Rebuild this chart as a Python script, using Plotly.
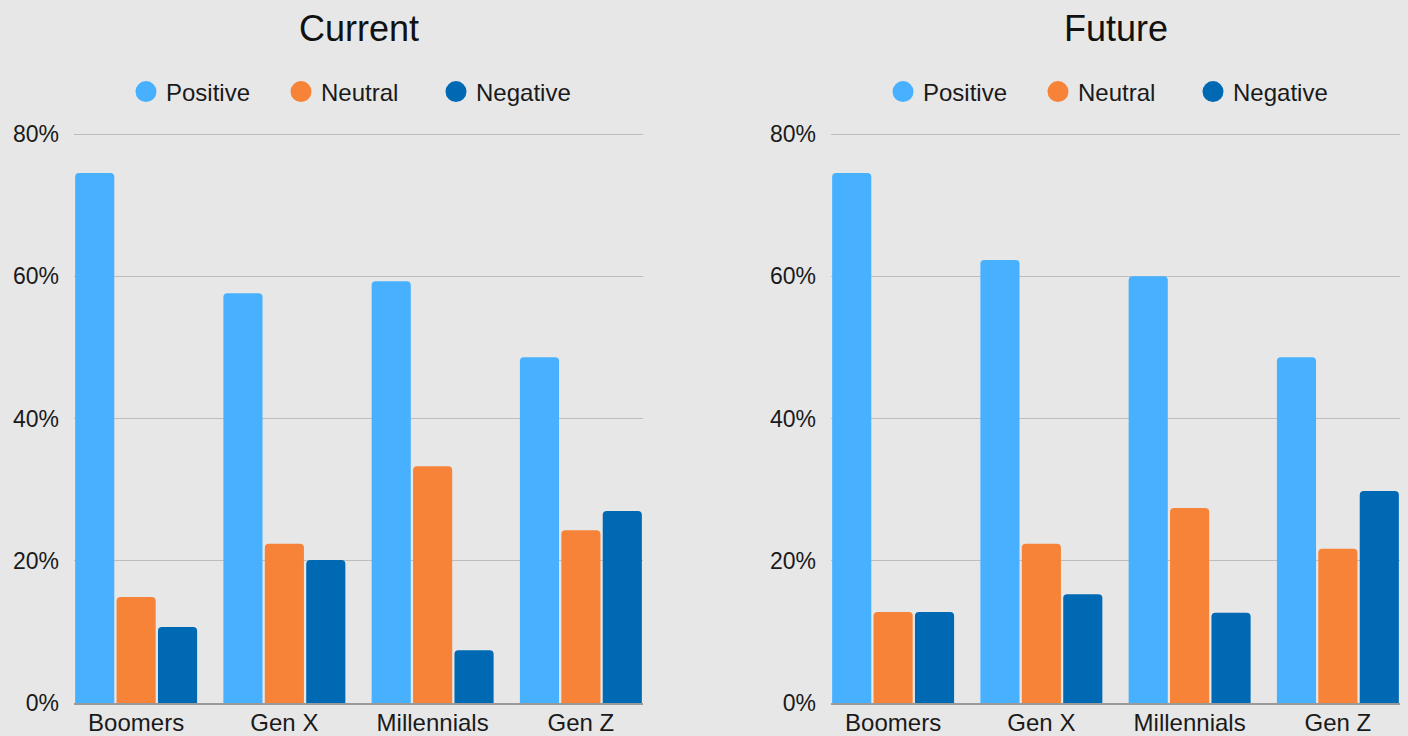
import plotly.graph_objects as go

categories = ["Boomers", "Gen X", "Millennials", "Gen Z"]
series_names = ["Positive", "Neutral", "Negative"]

current_positive = [74.5, 57.6, 59.3, 48.6]
current_neutral = [14.9, 22.4, 33.3, 24.3]
current_negative = [10.7, 20.1, 7.4, 27.0]

future_positive = [74.5, 62.3, 60.0, 48.6]
future_neutral = [12.8, 22.4, 27.4, 21.7]
future_negative = [12.8, 15.3, 12.7, 29.8]

panel_titles = ["Current", "Future"]
y_tick_values = [0, 20, 40, 60, 80]
y_tick_labels = ["0%", "20%", "40%", "60%", "80%"]

colors = ["#48B1FF", "#F68337", "#0069B4"]
BG = "#E7E7E7"
FONT = "Liberation Sans, Arial, sans-serif"

W, H = 1408, 736
panels = [
    (current_positive, current_neutral, current_negative),
    (future_positive, future_neutral, future_negative),
]
x_px = [(74, 643), (831, 1400)]
y_80, y_bot = 134, 703
y_max = 0.804
plot_len = (y_bot - y_80) * y_max / 0.8
y_top = y_bot - plot_len

fig = go.Figure()
for p, data in enumerate(panels):
    xa = "x" if p == 0 else "x2"
    ya = "y" if p == 0 else "y2"
    lg = "legend" if p == 0 else "legend2"
    for s, name in enumerate(series_names):
        fig.add_trace(go.Bar(
            x=categories, y=[v / 100 for v in data[s]], name=name,
            marker=dict(color=colors[s], line=dict(width=0)),
            xaxis=xa, yaxis=ya, showlegend=False,
        ))
    for s, name in enumerate(series_names):
        fig.add_trace(go.Scatter(
            x=[None], y=[None], mode="markers", name=name,
            marker=dict(color=colors[s], size=16, symbol="circle",
                        line=dict(color=colors[s], width=5)),
            xaxis=xa, yaxis=ya, legend=lg, showlegend=True,
        ))

yd = [(H - y_bot) / H, (H - y_top) / H]
axis_common_x = dict(
    type="category", range=[-0.419, 3.419], showgrid=False, automargin=False,
    showline=True, linecolor="#9A9A9A", linewidth=1.5,
    tickfont=dict(family=FONT, size=24, color="#1A1A1A"),
    ticks="", ticklabelstandoff=-3, zeroline=False, fixedrange=True,
)
axis_common_y = dict(
    range=[0, y_max], tickvals=[v / 100 for v in y_tick_values], ticktext=y_tick_labels,
    showgrid=True, gridcolor="#BDBDBD", gridwidth=1, zeroline=False, automargin=False,
    showline=False, tickfont=dict(family=FONT, size=23, color="#1A1A1A"),
    ticks="", ticklabelstandoff=14, fixedrange=True,
)

legend_common = dict(
    orientation="h", xanchor="center", yanchor="middle",
    font=dict(family=FONT, size=24, color="#1A1A1A"),
    bgcolor="rgba(0,0,0,0)", entrywidth=110, itemclick=False,
)

annotations = []
for p in range(2):
    cx = (x_px[p][0] + x_px[p][1]) / 2 / W
    annotations.append(dict(
        text=panel_titles[p], x=cx, y=1 - 28 / H, xref="paper", yref="paper",
        xanchor="center", yanchor="middle", showarrow=False,
        font=dict(family=FONT, size=36, color="#111111"),
    ))

fig.update_layout(
    width=W, height=H, paper_bgcolor=BG, plot_bgcolor=BG,
    margin=dict(l=0, r=0, t=0, b=0, autoexpand=False),
    barmode="group", bargap=0.162, bargroupgap=0.055, barcornerradius=4,
    xaxis=dict(domain=[x_px[0][0] / W, x_px[0][1] / W], anchor="y", **axis_common_x),
    xaxis2=dict(domain=[x_px[1][0] / W, x_px[1][1] / W], anchor="y2", **axis_common_x),
    yaxis=dict(domain=yd, anchor="x", **axis_common_y),
    yaxis2=dict(domain=yd, anchor="x2", **axis_common_y),
    legend=dict(x=(x_px[0][0] + x_px[0][1]) / 2 / W, y=1 - 92 / H, **legend_common),
    legend2=dict(x=(x_px[1][0] + x_px[1][1]) / 2 / W, y=1 - 92 / H, **legend_common),
    annotations=annotations,
    showlegend=True,
)

fig.write_html("out.html", config={"displayModeBar": False})
